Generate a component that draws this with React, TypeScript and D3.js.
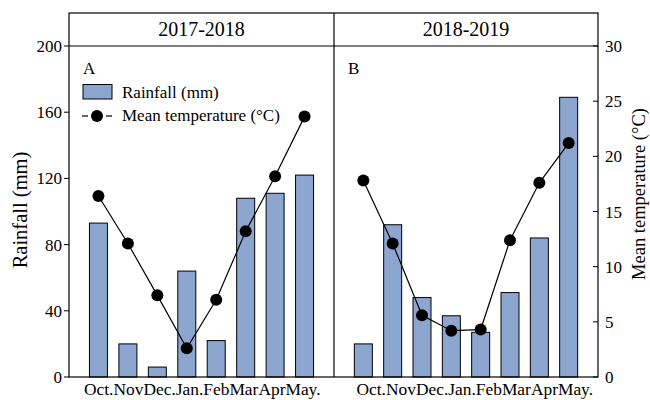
import React from "react";
import * as d3 from "d3";

const months = ["Oct.", "Nov", "Dec.", "Jan.", "Feb", "Mar", "Apr", "May."];
const seasons = ["2017-2018", "2018-2019"];
const panelLetters = ["A", "B"];
const rainA = [93, 20, 6, 64, 22, 108, 111, 122];
const tempA = [16.4, 12.1, 7.4, 2.6, 7.0, 13.2, 18.2, 23.6];
const rainB = [20, 92, 48, 37, 27, 51, 84, 169];
const tempB = [17.8, 12.1, 5.6, 4.2, 4.3, 12.4, 17.6, 21.2];
const rainTicks = [0, 40, 80, 120, 160, 200];
const tempTicks = [0, 5, 10, 15, 20, 25, 30];

const FONT = "'Liberation Serif', 'Times New Roman', serif";
const BAR = "#8DA6CF";

const L = 69, M = 334, R = 598, TOP = 13, HEAD = 46, BOT = 377;

export default function App() {
  const yRain = d3.scaleLinear().domain([0, 200]).range([BOT, HEAD]);
  const yTemp = d3.scaleLinear().domain([0, 30]).range([BOT, HEAD]);
  const panels = [
    { rain: rainA, temp: tempA, x: d3.scaleLinear().domain([0, 9]).range([L, M]), labelOffset: 15 },
    { rain: rainB, temp: tempB, x: d3.scaleLinear().domain([0, 9]).range([M, R]), labelOffset: 22.5 },
  ];
  const bw = 18;
  return (
    <svg width={650} height={400} style={{ position: "absolute", left: 0, top: 0, background: "#fff" }} fontFamily={FONT}>
      {panels.map((p, pi) => {
        const line = d3.line<number>().x((_, i) => p.x(i + 1)).y((d) => yTemp(d));
        const [x0, x1] = p.x.range();
        return (
          <g key={pi}>
            {p.rain.map((v, i) => (
              <rect key={i} x={p.x(i + 1) - bw / 2} y={yRain(v)} width={bw} height={BOT - yRain(v)} fill={BAR} stroke="#000" strokeWidth={1} />
            ))}
            <path d={line(p.temp) || ""} fill="none" stroke="#000" strokeWidth={1.2} />
            {p.temp.map((v, i) => (
              <circle key={i} cx={p.x(i + 1)} cy={yTemp(v)} r={6} fill="#000" />
            ))}
            <text x={x0 + p.labelOffset} y={395} fontSize={17.4}>
              {months.map((m) => (
                <tspan key={m}>{m}</tspan>
              ))}
            </text>
            <text x={(x0 + x1) / 2} y={36} textAnchor="middle" fontSize={20}>{seasons[pi]}</text>
            <text x={x0 + 14} y={74} fontSize={17}>{panelLetters[pi]}</text>
          </g>
        );
      })}
      {/* frame */}
      <rect x={L} y={TOP} width={R - L} height={BOT - TOP} fill="none" stroke="#000" strokeWidth={1.2} />
      <line x1={L} x2={R} y1={HEAD} y2={HEAD} stroke="#000" strokeWidth={1.2} />
      <line x1={M} x2={M} y1={TOP} y2={BOT} stroke="#000" strokeWidth={1.2} />
      {/* left axis */}
      {rainTicks.map((t) => (
        <g key={t}>
          <line x1={L - 5} x2={L} y1={yRain(t)} y2={yRain(t)} stroke="#000" />
          <text x={L - 7} y={yRain(t) + 6} textAnchor="end" fontSize={17}>{t}</text>
        </g>
      ))}
      {/* right axis */}
      {tempTicks.map((t) => (
        <g key={t}>
          <line x1={R - 5} x2={R} y1={yTemp(t)} y2={yTemp(t)} stroke="#000" />
          <text x={R + 7} y={yTemp(t) + 6} textAnchor="start" fontSize={17}>{t}</text>
        </g>
      ))}
      <text transform={`translate(27,210) rotate(-90)`} textAnchor="middle" fontSize={20.5}>Rainfall (mm)</text>
      <text transform={`translate(645,194) rotate(-90)`} textAnchor="middle" fontSize={18.5}>Mean temperature (°C)</text>
      {/* legend */}
      <rect x={83} y={84.5} width={29} height={14.5} fill={BAR} stroke="#000" strokeWidth={1} />
      <text x={122} y={98} fontSize={17}>Rainfall (mm)</text>
      <line x1={82} x2={88} y1={116} y2={116} stroke="#000" strokeWidth={1.2} />
      <line x1={106} x2={112} y1={116} y2={116} stroke="#000" strokeWidth={1.2} />
      <circle cx={97} cy={116} r={6} fill="#000" />
      <text x={122} y={121} fontSize={17}>Mean temperature (°C)</text>
    </svg>
  );
}
